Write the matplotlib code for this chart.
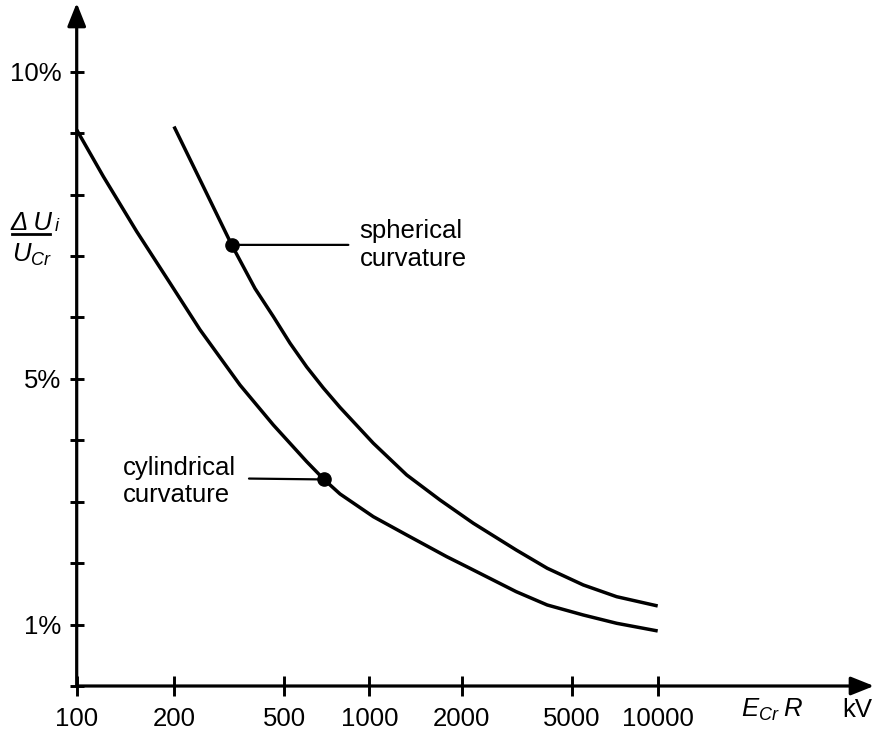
import matplotlib
matplotlib.use('Agg')
import numpy as np
import matplotlib.pyplot as plt
from matplotlib.lines import Line2D
from matplotlib.ticker import NullLocator

plt.rcParams['font.family'] = ['Liberation Sans', 'DejaVu Sans']
plt.rcParams['mathtext.fontset'] = 'custom'
plt.rcParams['mathtext.it'] = 'Liberation Sans:italic'
plt.rcParams['mathtext.rm'] = 'Liberation Sans'
plt.rcParams['mathtext.sf'] = 'Liberation Sans'

# ---- data ----
cyl_x = [100, 120.9, 153.3, 194.4, 248.4, 346.6, 457.5, 601.2, 692, 788.1, 1030.5,
         1323.9, 1787, 2085, 3147.8, 4078, 5489, 7184, 10000]
cyl_y = [9.055, 8.295, 7.40, 6.56, 5.80, 4.90, 4.25, 3.653, 3.363, 3.127, 2.757,
         2.459, 2.106, 1.943, 1.536, 1.319, 1.156, 1.021, 0.896]
sph_x = [200, 255.3, 323.4, 392.7, 457.5, 525.1, 601.2, 688.1, 788.1, 1030.5, 1323.9,
         1699, 2203, 3147.8, 4078, 5489, 7184, 10000]
sph_y = [9.109, 8.132, 7.182, 6.472, 6.015, 5.581, 5.195, 4.853, 4.536, 3.953, 3.436,
         3.029, 2.650, 2.215, 1.917, 1.645, 1.454, 1.303]
cyl_dot = (692, 3.363)
sph_dot = (323.4, 7.182)

x_ticks = [100, 200, 500, 1000, 2000, 5000, 10000]
x_tick_labels = ['100', '200', '500', '1000', '2000', '5000', '10000']
y_ticks = [0, 1, 2, 3, 4, 5, 6, 7, 8, 9, 10]
y_tick_labels = ['', '1%', '', '', '', '5%', '', '', '', '', '10%']
y_lim = (0, 11.12)

# hand-drawn logarithmic axis: pixel position of each labelled tick (layout only)
x_tick_pos = [76.7, 174, 284, 369.3, 461.7, 571.7, 657.7]
_L = [1.0] + list(np.log10(x_ticks)) + [5.0]
_P = [76.7 - 323.2] + x_tick_pos + [657.7 + 285.7]

def fwd(x):
    x = np.asarray(x, dtype=float)
    return np.interp(np.log10(np.clip(x, 1e-12, None)), _L, _P)

def inv(p):
    p = np.asarray(p, dtype=float)
    return 10 ** np.interp(p, _P, _L)

FS = 18.5
W, H = 874, 738
fig = plt.figure(figsize=(W / 100, H / 100), dpi=100)

def fx(px):
    return px / W

def fy(py):
    return 1 - py / H

left, right, bottom, top = 76.7, 874, 686, 3
ax = fig.add_axes([fx(left), fy(bottom), fx(right - left), (bottom - top) / H])
ax.set_xscale('function', functions=(fwd, inv))
ax.set_xlim(100, float(inv(right)))
ax.set_ylim(*y_lim)

for s in ax.spines.values():
    s.set_visible(False)

lw_axis = 2.3
arrow_style = '-|>,head_length=0.7,head_width=0.28'
ax.annotate('', xy=(1, 0), xytext=(0, 0), xycoords='axes fraction', textcoords='axes fraction',
            arrowprops=dict(arrowstyle=arrow_style, lw=lw_axis, color='k',
                            mutation_scale=20, shrinkA=0, shrinkB=0), annotation_clip=False)
ax.annotate('', xy=(0, 1), xytext=(0, 0), xycoords='axes fraction', textcoords='axes fraction',
            arrowprops=dict(arrowstyle=arrow_style, lw=lw_axis, color='k',
                            mutation_scale=20, shrinkA=0, shrinkB=0), annotation_clip=False)

ax.set_xticks(x_ticks)
ax.set_xticklabels(x_tick_labels)
ax.xaxis.set_minor_locator(NullLocator())
ax.set_yticks(y_ticks)
ax.set_yticklabels(y_tick_labels)
ax.yaxis.set_minor_locator(NullLocator())
ax.tick_params(axis='x', direction='inout', length=14.4, width=2.1, pad=8, labelsize=FS)
ax.tick_params(axis='y', direction='inout', length=10, width=2.1, pad=6, labelsize=FS)

for xs, ys in ((cyl_x, cyl_y), (sph_x, sph_y)):
    ax.plot(xs, ys, color='k', lw=2.5, solid_capstyle='butt', solid_joinstyle='round',
            clip_on=False)
ax.plot(*cyl_dot, 'o', color='k', ms=9.5, zorder=5)
ax.plot(*sph_dot, 'o', color='k', ms=9.5, zorder=5)

ax.annotate('spherical\ncurvature', xy=sph_dot, xytext=(92, 0), textcoords='offset points',
            ha='left', va='center', fontsize=FS, linespacing=1.2,
            arrowprops=dict(arrowstyle='-', lw=1.6, color='k', relpos=(0, 0.5), shrinkA=6, shrinkB=0))
ax.annotate('cylindrical\ncurvature', xy=cyl_dot, xytext=(-63, -1.5), textcoords='offset points',
            ha='right', va='center', fontsize=FS, linespacing=1.2, multialignment='left',
            arrowprops=dict(arrowstyle='-', lw=1.6, color='k', relpos=(1, 0.56), shrinkA=7, shrinkB=0))

# y label as a fraction
renderer = fig.canvas.get_renderer()
t1 = fig.text(fx(11), fy(230), '\u0394 U', ha='left', va='baseline', fontsize=FS, style='italic')
bb = t1.get_window_extent(renderer)
fig.text(bb.x1 / W + 1.5 / W, fy(231), 'i', ha='left', va='baseline', fontsize=13, style='italic')
fig.text(fx(32), fy(255), r'$U_{Cr}$', ha='center', va='center', fontsize=FS)
fig.add_artist(Line2D([fx(11.7), fx(50)], [fy(233.5), fy(233.5)], color='k', lw=2.0))

# x label
fig.text(fx(772), fy(710), r'$E_{Cr}\;R$', ha='center', va='center', fontsize=FS)
fig.text(fx(857), fy(710), 'kV', ha='center', va='center', fontsize=FS)

fig.savefig('out.png', dpi=100)
